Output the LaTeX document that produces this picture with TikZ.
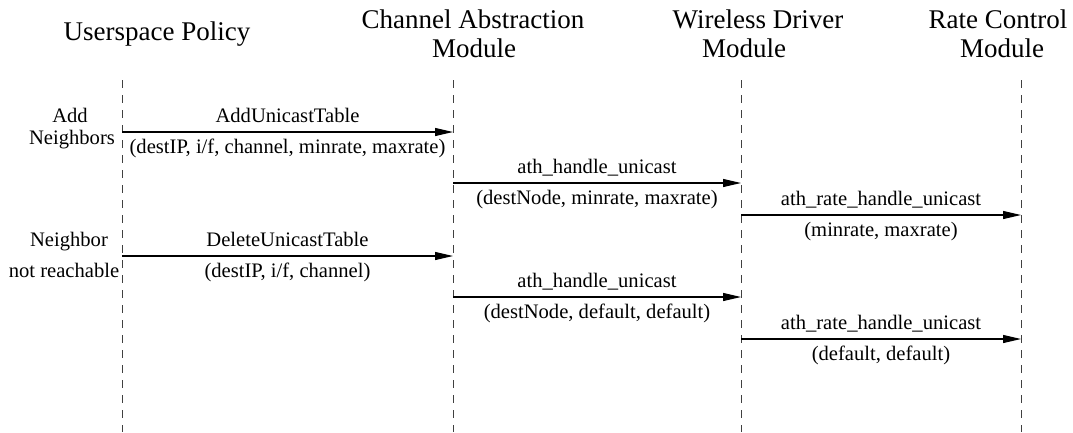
\documentclass[tikz,border=0pt]{standalone}
\usepackage{fontspec}
\setmainfont{Liberation Serif}
\usetikzlibrary{arrows.meta}
\begin{document}
\begin{tikzpicture}[x=1pt,y=1pt,
  headtext/.style={font=\fontsize{27}{30}\selectfont, anchor=base, inner sep=0pt},
  sidetext/.style={font=\fontsize{20.6}{24}\selectfont, anchor=base, inner sep=0pt},
  lifeline/.style={draw=black!75, line width=0.8pt, dash pattern=on 8pt off 7pt},
  msg/.style={draw=black, line width=1.1pt, -{Triangle[length=18pt,width=8pt]}},
  callname/.style={font=\fontsize{20.6}{24}\selectfont, midway, anchor=base, inner sep=0pt, yshift=10pt},
  callargs/.style={font=\fontsize{20.6}{24}\selectfont, midway, anchor=base, inner sep=0pt, yshift=-21pt}
]
\useasboundingbox (0,0) rectangle (1073,-432);

% column headers
\node[headtext] (hup)  at (157,-40) {Userspace Policy};
\node[headtext] (hca1) at (473,-28) {Channel Abstraction};
\node[headtext] (hca2) at (474,-57) {Module};
\node[headtext] (hwd1) at (758,-28) {Wireless Driver};
\node[headtext] (hwd2) at (744,-57) {Module};
\node[headtext] (hrc1) at (998,-28) {Rate Control};
\node[headtext] (hrc2) at (1002,-57) {Module};

% lifelines
\coordinate (upT) at (122,-80);  \coordinate (upB) at (122,-432);
\coordinate (caT) at (453,-80);  \coordinate (caB) at (453,-432);
\coordinate (wdT) at (741,-80);  \coordinate (wdB) at (741,-432);
\coordinate (rcT) at (1021,-80); \coordinate (rcB) at (1021,-432);
\draw[lifeline] (upT) -- (upB);
\draw[lifeline] (caT) -- (caB);
\draw[lifeline] (wdT) -- (wdB);
\draw[lifeline] (rcT) -- (rcB);

% events on the policy side
\node[sidetext] (ev1a) at (70,-122) {Add};
\node[sidetext] (ev1b) at (72,-144) {Neighbors};
\node[sidetext] (ev2a) at (69,-246) {Neighbor};
\node[sidetext] (ev2b) at (64,-277) {not reachable};

% message end points
\coordinate (m1a) at (122,-132); \coordinate (m1b) at (453,-132);
\coordinate (m2a) at (453,-183); \coordinate (m2b) at (741,-183);
\coordinate (m3a) at (741,-215); \coordinate (m3b) at (1021,-215);
\coordinate (m4a) at (122,-256); \coordinate (m4b) at (453,-256);
\coordinate (m5a) at (453,-297); \coordinate (m5b) at (741,-297);
\coordinate (m6a) at (741,-339); \coordinate (m6b) at (1021,-339);

% messages
\draw[msg] (m1a) -- node[callname] (c1) {AddUnicastTable}
                   node[callargs] (p1) {(destIP, i/f, channel, minrate, maxrate)} (m1b);
\draw[msg] (m2a) -- node[callname] (c2) {ath\_handle\_unicast}
                   node[callargs] (p2) {(destNode, minrate, maxrate)} (m2b);
\draw[msg] (m3a) -- node[callname] (c3) {ath\_rate\_handle\_unicast}
                   node[callargs] (p3) {(minrate, maxrate)} (m3b);
\draw[msg] (m4a) -- node[callname] (c4) {DeleteUnicastTable}
                   node[callargs] (p4) {(destIP, i/f, channel)} (m4b);
\draw[msg] (m5a) -- node[callname] (c5) {ath\_handle\_unicast}
                   node[callargs] (p5) {(destNode, default, default)} (m5b);
\draw[msg] (m6a) -- node[callname] (c6) {ath\_rate\_handle\_unicast}
                   node[callargs] (p6) {(default, default)} (m6b);
\end{tikzpicture}
\end{document}
